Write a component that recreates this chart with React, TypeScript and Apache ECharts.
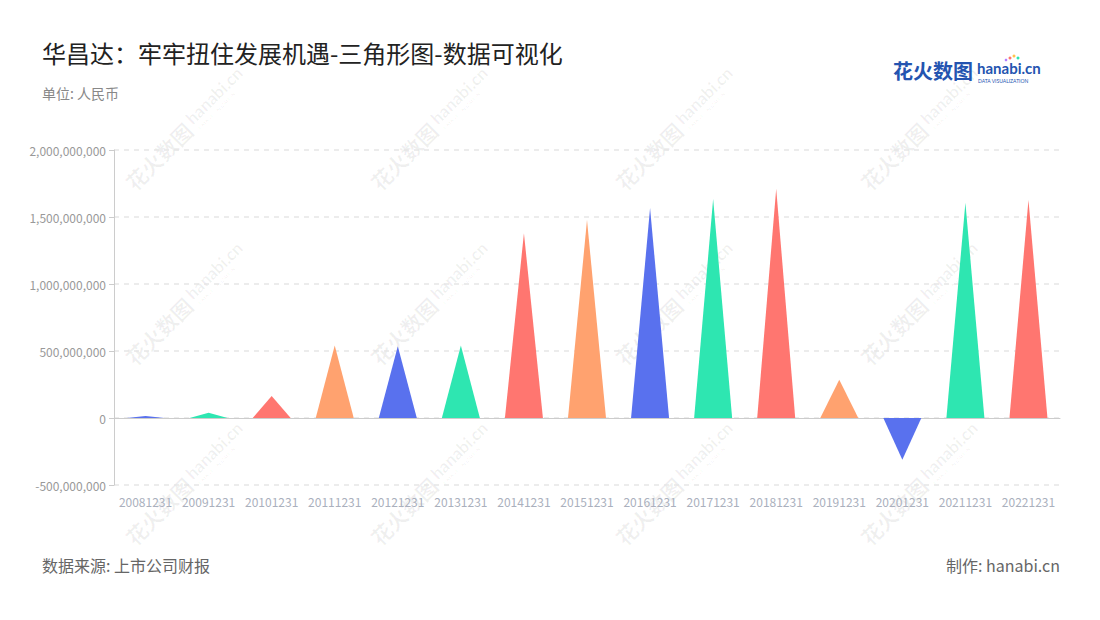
import React, { useEffect, useRef } from "react";
import * as echarts from "echarts";

const categories = [
  "20081231", "20091231", "20101231", "20111231", "20121231", "20131231", "20141231", "20151231",
  "20161231", "20171231", "20181231", "20191231", "20201231", "20211231", "20221231",
];
const values = [
  15000000, 40000000, 164000000, 540000000, 535000000, 540000000, 1380000000, 1477000000,
  1567000000, 1634000000, 1710000000, 286000000, -311000000, 1605000000, 1627000000,
];
const palette = ["#5971EE", "#2EE6B1", "#FF7670", "#FFA26F"];
const yTicks = [-500000000, 0, 500000000, 1000000000, 1500000000, 2000000000];

const FONT = "'Noto Sans CJK SC', 'Noto Sans', sans-serif";

function watermark(x: number, y: number) {
  const fill = "rgba(0,0,0,0.06)";
  return {
    type: "group",
    x,
    y,
    rotation: Math.PI / 4,
    silent: true,
    z: 100,
    children: [
      {
        type: "text",
        x: -72,
        y: 0,
        style: { text: "花火数图", fontSize: 21, fontWeight: "bold", fontFamily: FONT, fill, verticalAlign: "middle" },
      },
      {
        type: "text",
        x: 16,
        y: -4,
        style: { text: "hanabi.cn", fontSize: 17, fontWeight: "bold", fontFamily: "Lato, sans-serif", fill, verticalAlign: "middle" },
      },
      {
        type: "text",
        x: 18,
        y: 9,
        style: { text: "DATA VISUALIZATION", fontSize: 5, fontFamily: "Lato, sans-serif", fill, verticalAlign: "middle" },
      },
    ],
  };
}

export default function App() {
  const ref = useRef<HTMLDivElement>(null);
  useEffect(() => {
    document.body.style.margin = "0";
    const chart = echarts.init(ref.current!, undefined, { renderer: "svg" });
    const wmCols = [180, 425, 670, 915];
    const wmRows = [135, 310, 490];
    const wms: any[] = [];
    wmRows.forEach((r) => wmCols.forEach((c) => wms.push(watermark(c, r))));
    chart.setOption({
      animation: false,
      backgroundColor: "#fff",
      textStyle: { fontFamily: FONT },
      title: [
        {
          text: "华昌达：牢牢扭住发展机遇-三角形图-数据可视化",
          left: 42,
          top: 40,
          padding: 0,
          textStyle: { fontSize: 24, fontWeight: "normal", color: "#222", fontFamily: FONT },
        },
        {
          text: "单位: 人民币",
          left: 42,
          top: 86,
          padding: 0,
          textStyle: { fontSize: 14, fontWeight: "normal", color: "#888", fontFamily: FONT },
        },
        {
          text: "数据来源: 上市公司财报",
          left: 42,
          top: 557,
          padding: 0,
          textStyle: { fontSize: 16, fontWeight: "normal", color: "#666", fontFamily: FONT },
        },
        {
          text: "制作: hanabi.cn",
          right: 40,
          top: 557,
          padding: 0,
          textStyle: { fontSize: 16, fontWeight: "normal", color: "#666", fontFamily: FONT },
        },
      ],
      grid: { left: 114, right: 40, top: 150, bottom: 135, containLabel: false },
      xAxis: {
        type: "category",
        data: categories,
        axisLine: { lineStyle: { color: "#ccc" } },
        axisTick: { alignWithLabel: true, lineStyle: { color: "#ccc" } },
        axisLabel: { color: "#aab0bd", fontSize: 12, interval: 0, margin: 10 },
      },
      yAxis: {
        type: "value",
        min: yTicks[0],
        max: yTicks[yTicks.length - 1],
        interval: 500000000,
        axisLine: { show: true, lineStyle: { color: "#ccc" } },
        axisTick: { show: true, lineStyle: { color: "#ccc" } },
        axisLabel: {
          color: "#999",
          fontSize: 12,
          margin: 8,
          formatter: (v: number) => v.toLocaleString("en-US"),
        },
        splitLine: { lineStyle: { color: "#e6e6e6", type: [5, 5], width: 1.5 } },
      },
      series: [
        {
          type: "pictorialBar",
          symbol: "path://M0,10 L10,10 L5,0 L0,10 z",
          barWidth: "60%",
          data: values.map((v, i) => ({
            value: v,
            itemStyle: { color: palette[i % palette.length] },
          })),
        },
      ],
      graphic: [
        ...wms,
        {
          type: "text",
          x: 893,
          y: 60,
          style: { text: "花火数图", fontSize: 20, fontWeight: "bold", fontFamily: FONT, fill: "#2454b0" },
        },
        {
          type: "text",
          x: 977,
          y: 60,
          style: { text: "hanabi.cn", fontSize: 15, fontWeight: "bold", fontFamily: "Lato, sans-serif", fill: "#2454b0" },
        },
        {
          type: "text",
          x: 978,
          y: 78,
          style: { text: "DATA VISUALIZATION", fontSize: 5, fontFamily: "Lato, sans-serif", fill: "#2454b0" },
        },
        { type: "circle", shape: { cx: 1010, cy: 58, r: 1.5 }, style: { fill: "#ff7670" } },
        { type: "circle", shape: { cx: 1014, cy: 56, r: 1.5 }, style: { fill: "#ffc34d" } },
        { type: "circle", shape: { cx: 1018, cy: 58, r: 1.5 }, style: { fill: "#2ee6b1" } },
        { type: "circle", shape: { cx: 1006, cy: 60, r: 1.3 }, style: { fill: "#b57cff" } },
      ],
    });
    return () => chart.dispose();
  }, []);
  return (
    <div
      ref={ref}
      style={{ position: "absolute", left: 0, top: 0, width: 1100, height: 620 }}
    />
  );
}
